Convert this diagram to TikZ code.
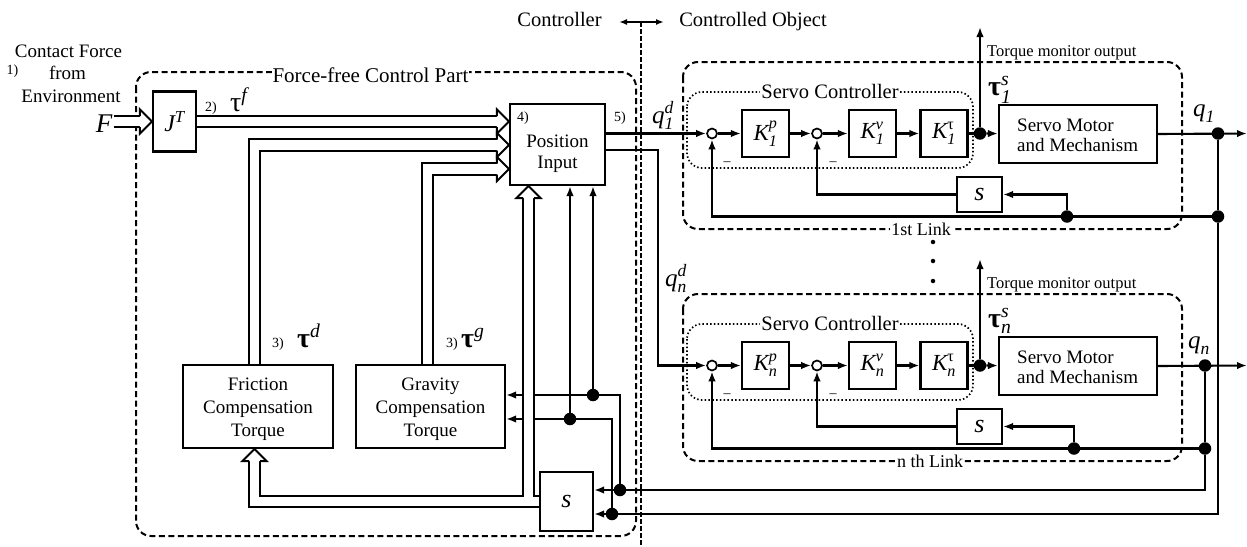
\documentclass[tikz,border=0pt]{standalone}
\usepackage{amsmath}
\usepackage{fontspec}
\setmainfont{Liberation Serif}
\usetikzlibrary{arrows.meta,calc}

\newcommand\ti[1]{\text{\itshape #1}}
\newcommand\fs[1]{\fontsize{#1}{#1}\selectfont}
% double-line (vector) signal: black body, then white core
\newcommand\pipe[1]{\draw[pipeouter] #1; \draw[pipeinner] #1;}
% open head for a double-line signal, tip at #1, direction #2
\newcommand\hhead[2]{\filldraw[hollowhead, shift={#1}, rotate=#2] (-12,5.5) -- (-12,12) -- (0,0) -- (-12,-12) -- (-12,-5.5);}

\begin{document}
\begin{tikzpicture}[x=1pt, y=-1pt,
  ln/.style={line width=2.1pt},
  blk/.style={draw, line width=2.1pt, inner sep=0pt, font=\fs{19}},
  gain/.style={blk, minimum width=47pt, minimum height=47pt, font=\fs{23}},
  sig/.style={ln, -{Latex[length=10pt,width=7.5pt]}},
  jdot/.style={circle, fill, inner sep=0pt, minimum size=12.5pt},
  sumj/.style={circle, draw, line width=1.7pt, fill=white, inner sep=0pt, minimum size=10pt},
  grp/.style={draw, line width=2pt, dash pattern=on 6pt off 3.5pt, rounded corners=15pt},
  dotgrp/.style={draw, line width=1.7pt, dash pattern=on 1.5pt off 2.3pt, rounded corners=15pt},
  lbl/.style={inner sep=0pt, font=\fs{19}},
  frmlbl/.style={fill=white, inner sep=1pt, anchor=base, font=\fs{21}},
  num/.style={inner sep=0pt, font=\fs{14}},
  sym/.style={inner sep=0pt, anchor=base west},
  pipeouter/.style={line width=13.2pt, line join=miter},
  pipeinner/.style={white, line width=9.2pt, line join=miter},
  hollowhead/.style={fill=white, draw, line width=2pt, line join=miter},
  vdot/.style={circle, fill, inner sep=0pt, minimum size=4.5pt},
]
\useasboundingbox (0,0) rectangle (1247,546);

% ---------------- controller / controlled object divider
\coordinate (cl) at (619,22);
\coordinate (cr) at (664,22);
\coordinate (dtop) at (641,22);
\coordinate (dbot) at (641,546);
\draw[line width=1.8pt, dash pattern=on 4.5pt off 2.5pt] (dtop) -- (dbot);
\draw[ln, {Latex[length=8pt,width=6pt]}-{Latex[length=8pt,width=6pt]}] (cl) -- (cr);
\node[lbl, font=\fs{20.5}, anchor=base] (ctl) at (559.5,26.5) {Controller};
\node[lbl, font=\fs{20.5}, anchor=base] (cob) at (753,26.5) {Controlled Object};

% ---------------- force-free control part
\draw[grp] (136,72) rectangle (636,536);
\node[frmlbl] (ffl) at (370.5,82) {Force-free Control Part};

\node[lbl, anchor=base] (cf1) at (68.5,57) {Contact Force};
\node[lbl, anchor=base] (cf2) at (67.5,79) {from};
\node[lbl, anchor=base] (cf3) at (71,102) {Environment};
\node[num, anchor=base] (n1) at (12.5,74) {1)};
\node[inner sep=1.5pt, font=\fs{27}\itshape] (F) at (104,123.5) {F};

\node[blk, minimum width=43pt, minimum height=60pt, font=\fs{24}] (jt) at (174.5,121.5) {$\ti{J}^{\ti{T}}$};
\node[num, anchor=base] (n2) at (211,111) {2)};
\node[sym, font=\fs{28}] (tf) at (230,111) {$\text{τ}^{\ti{f}}$};

\node[blk, minimum width=95pt, minimum height=81pt] (pos) at (557.5,144.5) {};
\node[lbl, anchor=base] (pos1) at (557.5,147) {Position};
\node[lbl, anchor=base] (pos2) at (557.5,168) {Input};
\node[num, anchor=base] (n4) at (523,121) {4)};
\node[num, anchor=base] (n5) at (620,121) {5)};

\node[blk, minimum width=150pt, minimum height=83pt] (fric) at (258,406.5) {};
\node[lbl, anchor=base] (fr1) at (258,390) {Friction};
\node[lbl, anchor=base] (fr2) at (258,413) {Compensation};
\node[lbl, anchor=base] (fr3) at (258,436) {Torque};
\node[blk, minimum width=149pt, minimum height=83pt] (grav) at (430.5,406.5) {};
\node[lbl, anchor=base] (gr1) at (430.5,390) {Gravity};
\node[lbl, anchor=base] (gr2) at (430.5,413) {Compensation};
\node[lbl, anchor=base] (gr3) at (430.5,436) {Torque};

\node[num, anchor=base] (n3a) at (278,347) {3)};
\node[sym, font=\fs{28}] (td) at (297,347) {$\text{\bfseries τ}^{\ti{d}}$};
\node[num, anchor=base] (n3b) at (452,347) {3)};
\node[sym, font=\fs{28}] (tg) at (461,347) {$\text{\bfseries τ}^{\ti{g}}$};

\node[blk, minimum width=53pt, minimum height=59pt, font=\fs{26}\itshape] (sbox) at (566.5,501.5) {s};

% ---------------- one servo loop per link
\foreach \dy/\id/\sb/\lab/\lx/\ox/\fx/\qx in
  {0/a/1/1st Link/921/1218/1067/1193, 232/b/n/n th Link/930/1205/1074/1188}{
\begin{scope}[shift={(0,\dy)}]
  \draw[grp] (683,62) rectangle (1182,229);
  \node[frmlbl, font=\fs{18}] (fl\id) at (\lx,235) {\lab};
  \draw[dotgrp] (687,92) rectangle (973,168);
  \node[frmlbl, font=\fs{20.5}] (sc\id) at (830,98) {Servo Controller};

  \node[sumj] (sa\id) at (712,133.5) {};
  \node[gain] (kp\id) at (765.5,133.5) {$\ti{K}^{\ti{p}}_{\ti{\sb}}$};
  \node[sumj] (sb\id) at (817,133.5) {};
  \node[gain] (kv\id) at (872.5,133.5) {$\ti{K}^{\ti{v}}_{\ti{\sb}}$};
  \node[gain] (kt\id) at (944,133.5) {$\ti{K}^{\text{τ}}_{\ti{\sb}}$};
  \node[jdot] (tj\id) at (980,133.5) {};
  \node[blk, minimum width=158pt, minimum height=58pt] (sm\id) at (1078,134) {};
  \node[lbl, anchor=base west] (sm1\id) at (1017,131) {Servo Motor};
  \node[lbl, anchor=base west] (sm2\id) at (1017,151) {and Mechanism};
  \node[jdot] (od\id) at (\ox,133.5) {};
  \coordinate (oe\id) at (1247,133.5);
  \node[blk, minimum width=45pt, minimum height=35pt, font=\fs{26}\itshape] (sd\id) at (979.5,194.5) {s};
  \node[jdot] (fd\id) at (\fx,216.5) {};
  \node[jdot] (bd\id) at (\ox,216.5) {};
  \coordinate (tm\id) at (980,27);

  \node[inner sep=0pt, font=\fs{14}] (ma\id) at (727,164) {–};
  \node[inner sep=0pt, font=\fs{14}] (mb\id) at (833,164) {–};

  \draw[sig] (sa\id) -- (kp\id);
  \draw[sig] (kp\id) -- (sb\id);
  \draw[sig] (sb\id) -- (kv\id);
  \draw[sig] (kv\id) -- (kt\id);
  \draw[ln] (kt\id) -- (tj\id);
  \draw[sig] (tj\id) -- (sm\id);
  \draw[sig] (sm\id.east) -- (oe\id);
  \draw[sig] (tj\id) -- (tm\id);
  \draw[ln] (od\id) -- (bd\id);
  \draw[sig] (bd\id) -- (sa\id |- bd\id) -- (sa\id);
  \draw[sig] (fd\id) |- (sd\id);
  \draw[sig] (sd\id) -| (sb\id);

  \node[inner sep=0pt, font=\fs{16.5}, anchor=base west] (tmo\id) at (987,56) {Torque monitor output};
  \node[sym, font=\fs{28}] (ts\id) at (988,95) {$\text{\bfseries τ}^{\ti{s}}_{\ti{\sb}}$};
  \node[sym, font=\fs{25}] (qo\id) at (\qx,116) {$\ti{q}_{\ti{\sb}}$};
\end{scope}
}

\node[vdot] (v1) at (933,242) {};
\node[vdot] (v2) at (933,261) {};
\node[vdot] (v3) at (933,281) {};

% ---------------- desired joint positions to the links
\draw[sig] (pos.east |- saa) -- (saa);
\coordinate (qnd) at (658,150);
\draw[sig] (pos.east |- qnd) -- (qnd) |- (sab);
\node[sym, font=\fs{25}] (q1d) at (652,123) {$\ti{q}^{\ti{d}}_{\ti{1}}$};
\node[sym, font=\fs{25}] (qnl) at (665,286) {$\ti{q}^{\ti{d}}_{\ti{n}}$};

% ---------------- measured joint positions back to the controller
\node[jdot] (d593) at (593,395) {};
\node[jdot] (d570) at (570,419) {};
\node[jdot] (e620) at (620,490) {};
\node[jdot] (e612) at (612,514) {};
\draw[sig] (d593) -- (d593 |- pos.south);
\draw[sig] (d570) -- (d570 |- pos.south);
\draw[ln] (e620) |- (d593);
\draw[sig] (d593) -- (d593 -| grav.east);
\draw[ln] (e612) |- (d570);
\draw[sig] (d570) -- (d570 -| grav.east);
\draw[sig] (bda) |- (sbox.east |- e612);
\draw[sig] (bdb) |- (sbox.east |- e620);

% ---------------- torque vectors (double lines)
\coordinate (tdc) at (254.5,145);
\coordinate (tgc) at (427.5,169);
\coordinate (tbc) at (254.5,501.5);
\coordinate (tcc) at (528.5,501.5);
\pipe{(F.east |- jt.west) -- ($(jt.west)+(-12,0)$)}
\pipe{(jt.east) -- ($(pos.west |- jt.east)+(-12,0)$)}
\pipe{(fric.north -| tdc) -- (tdc) -- ($(pos.west |- tdc)+(-12,0)$)}
\pipe{(grav.north -| tgc) -- (tgc) -- ($(pos.west |- tgc)+(-12,0)$)}
\pipe{(sbox.west) -- (tbc) -- ($(fric.south -| tbc)+(0,12)$) (tcc) -- ($(pos.south -| tcc)+(0,12)$)}
\hhead{(jt.west)}{0}
\hhead{(pos.west |- jt.east)}{0}
\hhead{(pos.west |- tdc)}{0}
\hhead{(pos.west |- tgc)}{0}
\hhead{(fric.south -| tbc)}{90}
\hhead{(pos.south -| tcc)}{90}
\end{tikzpicture}
\end{document}
